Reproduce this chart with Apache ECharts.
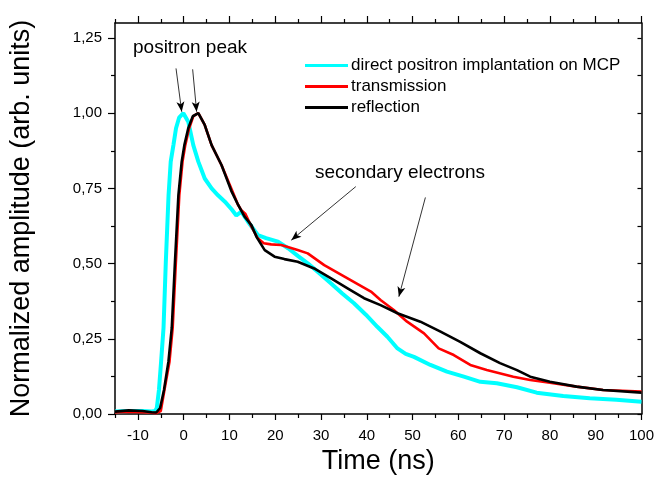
<!DOCTYPE html>
<html>
<head>
<meta charset="utf-8">
<script src="https://cdn.jsdelivr.net/npm/echarts@6/dist/echarts.min.js"></script>
<style>html,body{margin:0;padding:0;background:#fff}#c{width:657px;height:483px}</style>
</head>
<body>
<div id="c"></div>
<script>
// ---- Data ----
const cyanT = [-15,-12,-9,-7,-6.2,-5.87,-5.4,-4.93,-4.4,-3.9,-3.3,-2.83,-2.24,-1.67,-1.0,-0.07,1.0,2.1,3.2,4.6,6.1,7.5,9.0,10.5,11.5,12.6,14.0,16.2,18.0,20.6,22.8,25.0,27.1,29.5,32.2,34.7,37.2,39.8,42.3,44.5,46.7,48.5,50.3,53.9,57.5,61.2,64.8,68.4,72.8,77.1,82.9,88.7,94.5,100];
const cyanY = [0.008,0.010,0.010,0.008,0.010,0.020,0.080,0.174,0.286,0.506,0.728,0.839,0.894,0.950,0.985,1.000,0.972,0.894,0.839,0.783,0.750,0.727,0.706,0.680,0.660,0.673,0.640,0.595,0.585,0.573,0.551,0.525,0.501,0.470,0.434,0.400,0.368,0.330,0.290,0.257,0.218,0.200,0.190,0.163,0.141,0.124,0.107,0.102,0.089,0.071,0.060,0.052,0.047,0.041];

const redT = [-15,-12,-9,-7,-6,-5.0,-4.2,-3.1,-2.4,-1.7,-0.95,-0.25,0.35,1.2,2.1,3.2,4.6,6.1,8.26,10.4,11.9,12.6,13.5,14.8,16.2,17.5,19.1,21.3,24.9,27.1,30.7,35.8,40.9,43.0,45.9,48.8,52.5,55.7,59.0,62.6,66.2,72.0,75.7,80.0,85.8,91.6,100];
const redY = [0.005,0.008,0.006,0.004,0.003,0.010,0.080,0.174,0.286,0.506,0.728,0.839,0.894,0.950,0.990,1.000,0.961,0.894,0.828,0.750,0.695,0.678,0.665,0.623,0.584,0.568,0.564,0.562,0.545,0.534,0.495,0.451,0.407,0.379,0.346,0.307,0.268,0.218,0.196,0.163,0.146,0.124,0.113,0.104,0.091,0.080,0.075];

const blackT = [-15,-12,-9,-7,-6,-5.15,-4.3,-3.33,-2.6,-1.9,-1.15,-0.43,0.15,1.0,2.0,3.2,4.6,6.1,8.26,10.4,11.9,13.3,14.8,15.9,17.7,19.85,22.0,24.9,28.5,32.2,35.8,39.4,43.0,46.7,51.7,56.1,60.4,64.8,69.1,72.8,75.7,80.0,85.8,91.6,100];
const blackY = [0.008,0.012,0.010,0.006,0.005,0.020,0.080,0.174,0.286,0.506,0.728,0.839,0.894,0.950,0.990,1.000,0.961,0.894,0.828,0.742,0.695,0.656,0.628,0.589,0.545,0.523,0.515,0.506,0.484,0.451,0.418,0.385,0.362,0.335,0.307,0.274,0.240,0.202,0.169,0.146,0.124,0.107,0.091,0.080,0.071];

const seriesNames = ['direct positron implantation on MCP','transmission','reflection'];
const xMajor = [-10,0,10,20,30,40,50,60,70,80,90,100];
const xMinor = [-15,-5,5,15,25,35,45,55,65,75,85,95];
const yMajor = [0,0.25,0.5,0.75,1.0,1.25];
const yMinor = [0.125,0.375,0.625,0.875,1.125];
const yAll = [0,0.125,0.25,0.375,0.5,0.625,0.75,0.875,1.0,1.125,1.25];

// annotation arrows (data coordinates)
const peakArrows = [[[-1.67,1.149],[-0.43,1.005]],[[1.96,1.146],[2.83,1.005]]];
const secArrows = [[[37.6,0.756],[23.5,0.578]],[[52.8,0.720],[47.0,0.390]]];

const pairs = (t,y) => t.map((v,i)=>[v,y[i]]);
const FONT = 'Liberation Sans, Arial, sans-serif';
const axisLine = {show:true, onZero:false, lineStyle:{color:'#000', width:1.5}};
const noLine = {show:false, onZero:false};

const chart = echarts.init(document.getElementById('c'));
const arrowLines = peakArrows.concat(secArrows).map(a=>[{coord:a[0]},{coord:a[1]}]);

chart.setOption({
  animation:false,
  backgroundColor:'#fff',
  grid:{left:113, right:15, top:23, bottom:69},
  legend:{
    data:seriesNames, orient:'vertical', left:300, top:52, itemGap:4,
    itemWidth:43, itemHeight:3, icon:'rect',
    textStyle:{fontFamily:FONT, fontSize:17, color:'#000', padding:[0,0,0,-2]}
  },
  xAxis:[
    {type:'value', min:-15, max:100, position:'bottom', axisLine:axisLine,
     axisTick:{show:true, customValues:xMajor, length:6, lineStyle:{color:'#000',width:1.2}},
     axisLabel:{customValues:xMajor, margin:14, fontFamily:FONT, fontSize:15, color:'#000'},
     splitLine:{show:false},
     name:'Time (ns)', nameLocation:'middle', nameGap:33,
     nameTextStyle:{fontFamily:FONT, fontSize:27, color:'#000'}},
    {type:'value', min:-15, max:100, position:'bottom', axisLine:noLine,
     axisTick:{show:true, customValues:xMinor, length:4, lineStyle:{color:'#000',width:1.2}},
     axisLabel:{show:false}, splitLine:{show:false}},
    {type:'value', min:-15, max:100, position:'top', axisLine:axisLine,
     axisTick:{show:true, customValues:xMajor, length:7, lineStyle:{color:'#000',width:1.2}},
     axisLabel:{show:false}, splitLine:{show:false}},
    {type:'value', min:-15, max:100, position:'top', axisLine:noLine,
     axisTick:{show:true, customValues:xMinor, length:4, lineStyle:{color:'#000',width:1.2}},
     axisLabel:{show:false}, splitLine:{show:false}}
  ],
  yAxis:[
    {type:'value', min:0, max:1.3, position:'left', axisLine:axisLine,
     axisTick:{show:true, customValues:yMajor, length:7, lineStyle:{color:'#000',width:1.2}},
     axisLabel:{customValues:yMajor, margin:13, fontFamily:FONT, fontSize:15, color:'#000',
       formatter:v=>v.toFixed(2).replace('.',',')},
     splitLine:{show:false},
     name:'Normalized amplitude (arb. units)', nameLocation:'middle', nameGap:80,
     nameTextStyle:{fontFamily:FONT, fontSize:27, color:'#000'}},
    {type:'value', min:0, max:1.3, position:'left', axisLine:noLine,
     axisTick:{show:true, customValues:yMinor, length:4, lineStyle:{color:'#000',width:1.2}},
     axisLabel:{show:false}, splitLine:{show:false}},
    {type:'value', min:0, max:1.3, position:'right', axisLine:axisLine,
     axisTick:{show:true, inside:true, customValues:yAll, length:4, lineStyle:{color:'#000',width:1.2}},
     axisLabel:{show:false}, splitLine:{show:false}}
  ],
  series:[
    {name:seriesNames[0], type:'line', data:pairs(cyanT,cyanY), showSymbol:false,
     color:'#00FFFF', lineStyle:{width:4, color:'#00FFFF'}, z:2},
    {name:seriesNames[1], type:'line', data:pairs(redT,redY), showSymbol:false,
     color:'#FF0000', lineStyle:{width:2.6, color:'#FF0000'}, z:3},
    {name:seriesNames[2], type:'line', data:pairs(blackT,blackY), showSymbol:false,
     color:'#000000', lineStyle:{width:2.6, color:'#000000'}, z:4,
     markLine:{silent:true, symbol:['none','arrow'], symbolSize:[6,10],
       lineStyle:{color:'#000', width:0.8, type:'solid'}, label:{show:false},
       data:arrowLines}}
  ],
  graphic:[
    {type:'text', left:133, top:38, style:{text:'positron peak', font:'19px '+FONT, fill:'#000'}},
    {type:'text', left:315, top:163, style:{text:'secondary electrons', font:'19px '+FONT, fill:'#000'}}
  ]
});
</script>
</body>
</html>
